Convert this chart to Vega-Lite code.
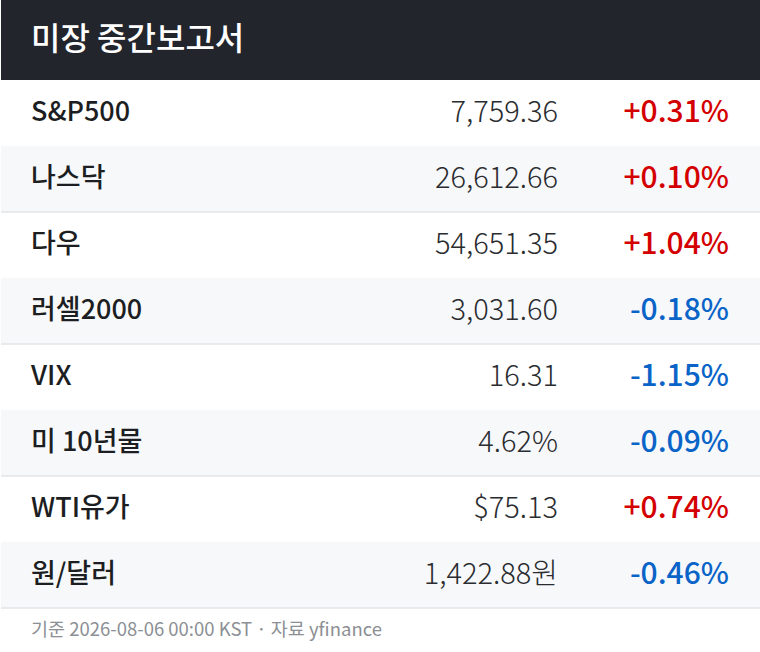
{
  "$schema": "https://vega.github.io/schema/vega-lite/v6.json",
  "padding": 0,
  "spacing": 0,
  "bounds": "flush",
  "background": "white",
  "config": {
    "view": {"stroke": null},
    "text": {"font": "Noto Sans CJK KR"},
    "scale": {"nice": false, "zero": false}
  },
  "datasets": {
    "header": [{"title": "미장 중간보고서"}],
    "rows": [
      {"rank": 1, "name": "S&P500", "value": "7,759.36", "change": "+0.31%"},
      {"rank": 2, "name": "나스닥", "value": "26,612.66", "change": "+0.10%"},
      {"rank": 3, "name": "다우", "value": "54,651.35", "change": "+1.04%"},
      {"rank": 4, "name": "러셀2000", "value": "3,031.60", "change": "-0.18%"},
      {"rank": 5, "name": "VIX", "value": "16.31", "change": "-1.15%"},
      {"rank": 6, "name": "미 10년물", "value": "4.62%", "change": "-0.09%"},
      {"rank": 7, "name": "WTI유가", "value": "$75.13", "change": "+0.74%"},
      {"rank": 8, "name": "원/달러", "value": "1,422.88원", "change": "-0.46%"}
    ],
    "footer": [{"note": "기준 2026-08-06 00:00 KST · 자료 yfinance"}]
  },
  "vconcat": [
    {
      "width": 760,
      "height": 80,
      "view": {"fill": "#22252c", "stroke": null},
      "data": {"name": "header"},
      "mark": {"type": "text", "align": "left", "baseline": "middle", "fontSize": 32, "fontWeight": 500, "color": "#ffffff"},
      "encoding": {
        "x": {"datum": 30, "type": "quantitative", "scale": {"domain": [0, 760], "range": [0, 760], "nice": false}, "axis": null},
        "text": {"field": "title"}
      }
    },
    {
      "width": 760,
      "height": 528,
      "data": {"name": "rows"},
      "encoding": {
        "y": {"field": "name", "type": "nominal", "sort": {"field": "rank"}, "scale": {"paddingInner": 0, "paddingOuter": 0}, "axis": null}
      },
      "layer": [
        {
          "mark": {"type": "rect"},
          "encoding": {
            "x": {"datum": 0, "type": "quantitative", "scale": {"domain": [0, 760], "range": [0, 760], "nice": false}, "axis": null},
            "x2": {"datum": 760},
            "color": {
              "condition": {"test": "datum.rank % 2 == 0", "value": "#f7f8fa"},
              "value": "#ffffff"
            }
          }
        },
        {
          "transform": [{"filter": "datum.rank % 2 == 0"}],
          "mark": {"type": "rule", "color": "#e3e5e8", "strokeWidth": 1.5},
          "encoding": {
            "x": {"datum": 0, "type": "quantitative"},
            "x2": {"datum": 760},
            "y": {"field": "name", "type": "nominal", "sort": {"field": "rank"}, "bandPosition": 1}
          }
        },
        {
          "mark": {"type": "text", "align": "left", "baseline": "middle", "fontSize": 27, "fontWeight": 500, "color": "#1c1e22"},
          "encoding": {
            "x": {"datum": 30, "type": "quantitative"},
            "text": {"field": "name"}
          }
        },
        {
          "mark": {"type": "text", "align": "right", "baseline": "middle", "fontSize": 29, "fontWeight": 300, "color": "#2a2c30"},
          "encoding": {
            "x": {"datum": 557, "type": "quantitative"},
            "text": {"field": "value"}
          }
        },
        {
          "mark": {"type": "text", "align": "right", "baseline": "middle", "fontSize": 30, "fontWeight": 500},
          "encoding": {
            "x": {"datum": 728, "type": "quantitative"},
            "text": {"field": "change"},
            "color": {
              "condition": {"test": "indexof(datum.change, '-') === 0", "value": "#0a64c8"},
              "value": "#d40000"
            }
          }
        }
      ]
    },
    {
      "width": 760,
      "height": 44,
      "data": {"name": "footer"},
      "mark": {"type": "text", "align": "left", "baseline": "middle", "fontSize": 18.5, "color": "#8c8f94"},
      "encoding": {
        "x": {"datum": 30, "type": "quantitative", "scale": {"domain": [0, 760], "range": [0, 760], "nice": false}, "axis": null},
        "text": {"field": "note"}
      }
    }
  ]
}
